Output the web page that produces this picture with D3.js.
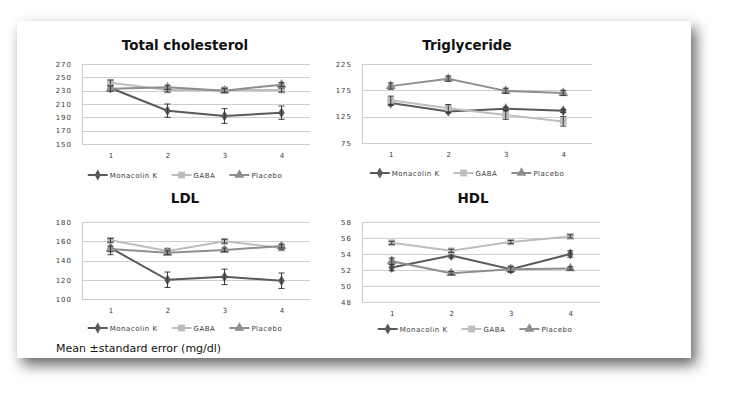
<!DOCTYPE html>
<html>
<head>
<meta charset="utf-8">
<script src="https://cdn.jsdelivr.net/npm/d3@7"></script>
<style>
  body { margin: 0; background: #fff; }
  text { font-family: "DejaVu Sans", sans-serif; }
</style>
</head>
<body>
<div id="chart"></div>
<script>
// ---- data ----
var visits = ["1", "2", "3", "4"];
var seriesNames = ["Monacolin K", "GABA", "Placebo"];

var tcMonacolin = [234, 200, 192, 197];
var tcGaba      = [242, 231, 231, 231];
var tcPlacebo   = [233, 235, 230, 239];
var tcMonacolinErr = [4, 10, 11, 10];
var tcGabaErr      = [4, 3, 3, 3];
var tcPlaceboErr   = [4, 3, 3, 3];
var tcTicks = [150, 170, 190, 210, 230, 250, 270];

var tgMonacolin = [151, 135, 140, 136];
var tgGaba      = [156, 141, 128, 116];
var tgPlacebo   = [183, 197, 174, 170];
var tgMonacolinErr = [5, 3, 3, 3];
var tgGabaErr      = [8, 7, 8, 9];
var tgPlaceboErr   = [6, 5, 5, 5];
var tgTicks = [75, 125, 175, 225];

var ldlMonacolin = [153, 120, 123, 119];
var ldlGaba      = [161, 150, 160, 153];
var ldlPlacebo   = [152, 148, 151, 155];
var ldlMonacolinErr = [7, 8, 8, 8];
var ldlGabaErr      = [2, 2, 2, 2];
var ldlPlaceboErr   = [3, 2, 2, 2];
var ldlTicks = [100, 120, 140, 160, 180];

var hdlMonacolin = [52.3, 53.8, 52.1, 54.0];
var hdlGaba      = [55.4, 54.4, 55.5, 56.2];
var hdlPlacebo   = [53.1, 51.6, 52.1, 52.2];
var hdlMonacolinErr = [0.4, 0.3, 0.4, 0.4];
var hdlGabaErr      = [0.2, 0.2, 0.2, 0.2];
var hdlPlaceboErr   = [0.4, 0.2, 0.3, 0.2];
var hdlTicks = [48, 50, 52, 54, 56, 58];

var footnote = "Mean \u00b1standard error (mg/dl)";

// ---- layout ----
var w = 730, h = 399;
var colors = ["#5a5a5a", "#bdbdbd", "#8e8e8e"];
var shapes = [d3.symbolDiamond, d3.symbolSquare, d3.symbolTriangle];
var sizes = [34, 46, 42];

var panels = [
  { title: "Total cholesterol", x0: 82, x1: 310, y0: 64, y1: 144, tx: 185, ty: 50, ly: 175, lx: 185,
    ticks: tcTicks, vals: [tcMonacolin, tcGaba, tcPlacebo], errs: [tcMonacolinErr, tcGabaErr, tcPlaceboErr] },
  { title: "Triglyceride", x0: 362, x1: 592, y0: 64, y1: 143, tx: 467, ty: 50, ly: 173, lx: 467,
    ticks: tgTicks, vals: [tgMonacolin, tgGaba, tgPlacebo], errs: [tgMonacolinErr, tgGabaErr, tgPlaceboErr] },
  { title: "LDL", x0: 82, x1: 310, y0: 222, y1: 299, tx: 185, ty: 203, ly: 328, lx: 185,
    ticks: ldlTicks, vals: [ldlMonacolin, ldlGaba, ldlPlacebo], errs: [ldlMonacolinErr, ldlGabaErr, ldlPlaceboErr] },
  { title: "HDL", x0: 362, x1: 600, y0: 222, y1: 302, tx: 473, ty: 203, ly: 329, lx: 475,
    ticks: hdlTicks, vals: [hdlMonacolin, hdlGaba, hdlPlacebo], errs: [hdlMonacolinErr, hdlGabaErr, hdlPlaceboErr] }
];

var svg = d3.select("#chart").append("svg")
    .attr("width", w)
    .attr("height", h);

var defs = svg.append("defs");
var f = defs.append("filter").attr("id", "shadow")
    .attr("x", "-10%").attr("y", "-10%").attr("width", "125%").attr("height", "135%");
f.append("feDropShadow")
    .attr("dx", 5).attr("dy", 7).attr("stdDeviation", 7)
    .attr("flood-color", "#000").attr("flood-opacity", 0.6);

// card
svg.append("rect")
    .attr("x", 17).attr("y", 21)
    .attr("width", 674).attr("height", 337)
    .attr("fill", "#fff")
    .attr("filter", "url(#shadow)");

panels.forEach(function(p) {
    var g = svg.append("g");

    var x = d3.scalePoint()
        .domain(visits)
        .range([p.x0, p.x1])
        .padding(0.5);

    var y = d3.scaleLinear()
        .domain([p.ticks[0], p.ticks[p.ticks.length - 1]])
        .range([p.y1, p.y0]);

    // gridlines
    g.selectAll("line.grid")
        .data(p.ticks)
        .enter()
        .append("line")
        .attr("x1", p.x0).attr("x2", p.x1)
        .attr("y1", function(d) { return Math.round(y(d)) + 0.5; })
        .attr("y2", function(d) { return Math.round(y(d)) + 0.5; })
        .attr("stroke", "#cfcfcf")
        .attr("stroke-width", 1);

    // y axis line
    g.append("line")
        .attr("x1", p.x0 + 0.5).attr("x2", p.x0 + 0.5)
        .attr("y1", p.y0).attr("y2", p.y1)
        .attr("stroke", "#c8c8c8");

    // y tick labels
    var yAxis = d3.axisLeft(y).tickValues(p.ticks).tickSize(0).tickPadding(10);
    var ya = g.append("g")
        .attr("transform", "translate(" + p.x0 + ",0)")
        .call(yAxis);
    ya.select(".domain").remove();
    ya.selectAll("text")
        .attr("font-family", "DejaVu Sans")
        .attr("font-size", 7)
        .attr("letter-spacing", 1)
        .attr("fill", "#3a3a3a");

    // x tick labels
    var xAxis = d3.axisBottom(x).tickSize(0).tickPadding(9);
    var xa = g.append("g")
        .attr("transform", "translate(0," + p.y1 + ")")
        .call(xAxis);
    xa.select(".domain").remove();
    xa.selectAll("text")
        .attr("font-family", "DejaVu Sans")
        .attr("font-size", 7)
        .attr("fill", "#3a3a3a");

    // lines
    var line = d3.line()
        .x(function(d, i) { return x(visits[i]); })
        .y(function(d) { return y(d); });

    p.vals.forEach(function(vals, s) {
        g.append("path")
            .attr("d", line(vals))
            .attr("fill", "none")
            .attr("stroke", colors[s])
            .attr("stroke-width", 2);
    });

    // markers and error bars
    p.vals.forEach(function(vals, s) {
        var pts = g.selectAll("g.pt" + s)
            .data(vals)
            .enter()
            .append("g")
            .attr("class", "pt" + s);

        pts.append("path")
            .attr("transform", function(d, i) { return "translate(" + x(visits[i]) + "," + y(d) + ")"; })
            .attr("d", d3.symbol().type(shapes[s]).size(sizes[s]))
            .attr("fill", colors[s]);

        pts.append("path")
            .attr("d", function(d, i) {
                var cx = x(visits[i]);
                var e = p.errs[s][i];
                var top = y(d + e), bot = y(d - e);
                return "M" + (cx - 3) + "," + top + "H" + (cx + 3) +
                       "M" + cx + "," + top + "V" + bot +
                       "M" + (cx - 3) + "," + bot + "H" + (cx + 3);
            })
            .attr("fill", "none")
            .attr("stroke", "#3a3a3a")
            .attr("stroke-width", 1);
    });

    // title
    g.append("text")
        .attr("x", p.tx).attr("y", p.ty)
        .attr("text-anchor", "middle")
        .attr("font-family", "Lato, sans-serif")
        .attr("font-weight", "bold")
        .attr("font-size", 13.5)
        .attr("fill", "#111")
        .text(p.title);

    // legend
    var leg = g.append("g");
    var cursor = 0;
    seriesNames.forEach(function(name, s) {
        var item = leg.append("g").attr("transform", "translate(" + cursor + ",0)");
        item.append("line")
            .attr("x1", 0).attr("x2", 20)
            .attr("y1", 0).attr("y2", 0)
            .attr("stroke", colors[s])
            .attr("stroke-width", 2);
        item.append("path")
            .attr("transform", "translate(10,0)")
            .attr("d", d3.symbol().type(shapes[s]).size(sizes[s]))
            .attr("fill", colors[s]);
        var t = item.append("text")
            .attr("x", 22).attr("y", 2.5)
            .attr("font-family", "DejaVu Sans")
            .attr("font-size", 7)
            .attr("letter-spacing", 0.5)
            .attr("fill", "#3a3a3a")
            .text(name);
        cursor += 22 + t.node().getComputedTextLength() + 14;
    });
    var legW = cursor - 14;
    leg.attr("transform", "translate(" + (p.lx - legW / 2) + "," + p.ly + ")");
});

svg.append("text")
    .attr("x", 56).attr("y", 352)
    .attr("font-family", "Liberation Sans, Arial, sans-serif")
    .attr("font-size", 11)
    .attr("fill", "#111")
    .text(footnote);
</script>
</body>
</html>
